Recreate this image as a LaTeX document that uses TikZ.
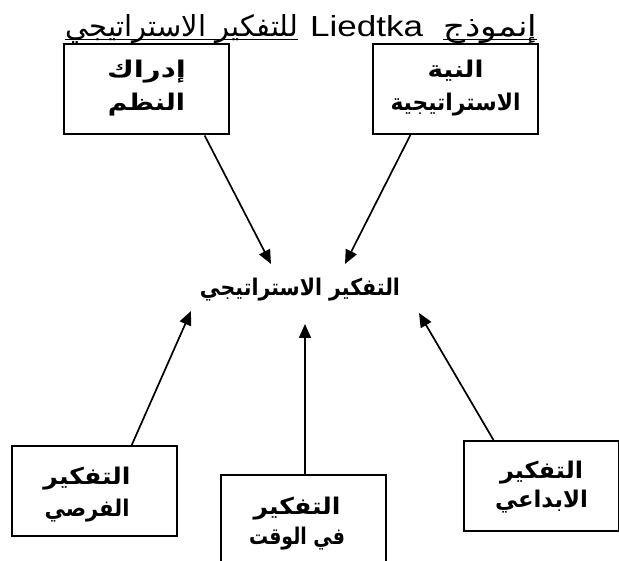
\documentclass[tikz,border=0pt]{standalone}
\usepackage{fontspec}
\usepackage{graphicx}
\usetikzlibrary{arrows.meta,calc}
\TeXXeTstate=1
\setmainfont{Liberation Sans}
\newfontfamily\arabicfont[Script=Arabic]{DejaVu Sans}
% line stretched horizontally to a set width
\newcommand{\fitw}[2]{\resizebox{#1pt}{\height}{#2}}
\begin{document}
\begin{tikzpicture}[x=1pt,y=-1pt,
  box/.style={draw, line width=2pt, minimum width=165pt, minimum height=90pt, inner sep=0pt},
  lbl/.style={align=center, inner sep=0pt, font=\arabicfont\bfseries\fontsize{23}{33}\selectfont},
  link/.style={line width=1.7pt, -{Triangle[length=14pt,width=12pt]}},
  uline/.style={line width=1.4pt}]
\useasboundingbox (0,0) rectangle (619,561);

% title
\node[anchor=base west, inner sep=0pt] (tA) at (65,37)
  {\fitw{233}{\arabicfont\fontsize{29}{34}\selectfont\beginR للتفكير الاستراتيجي\endR}};
\node[anchor=base west, inner sep=0pt] (tB) at (310,37)
  {\fitw{113}{\fontsize{29}{34}\selectfont Liedtka}};
\node[anchor=base west, inner sep=0pt] (tC) at (443,37)
  {\fitw{94}{\arabicfont\fontsize{29}{34}\selectfont\beginR إنموذج\endR}};
\draw[uline] (tA.base west) ++(0,2.5) coordinate (uA1) -- (uA1 -| tA.east);
\draw[uline] (tC.base west) ++(0,2.5) coordinate (uC1) -- (uC1 -| tC.east);

% boxes
\node[box] (perc) at (146.5,89.5) {};
\node[box] (intent) at (455.5,89) {};
\node[box] (opp) at (94,491) {};
\node[box] (time) at (303,520) {};
\node[box, minimum width=155pt] (creat) at (541.5,486) {};

% labels
\node[lbl] (percT) at ([yshift=1pt]perc.center)
  {\fitw{79}{\beginR إدراك\endR}\\\fitw{77}{\beginR النظم\endR}};
\node[lbl] (intentT) at ([yshift=1pt]intent.center)
  {\fitw{56}{\beginR النية\endR}\\\fitw{130}{\beginR الاستراتيجية\endR}};
\node[lbl, font=\arabicfont\bfseries\fontsize{23}{32}\selectfont] (oppT) at ([shift={(-7,4)}]opp.center)
  {\fitw{87}{\beginR التفكير\endR}\\\fitw{85}{\beginR الفرصي\endR}};
\node[lbl, font=\arabicfont\bfseries\fontsize{23}{30}\selectfont] (timeT) at ([shift={(-6,4)}]time.center)
  {\fitw{87}{\beginR التفكير\endR}\\\fitw{96}{\beginR في الوقت\endR}};
\node[lbl, font=\arabicfont\bfseries\fontsize{23}{29}\selectfont] (creatT) at ([yshift=-1pt]creat.center)
  {\fitw{83}{\beginR التفكير\endR}\\\fitw{93}{\beginR الابداعي\endR}};

% centre concept
\node[lbl] (goal) at (300,290)
  {\fitw{200}{\beginR التفكير الاستراتيجي\endR}};

% connectors
\draw[link] ($(perc.south west)!0.848!(perc.south east)$) -- ([shift={(-29,-26)}]goal.center);
\draw[link] ($(intent.south west)!0.23!(intent.south east)$) -- ([shift={(45,-26)}]goal.center);
\draw[link] ($(opp.north west)!0.726!(opp.north east)$) -- ([shift={(-109,21)}]goal.center);
\draw[link] ($(time.north west)!0.512!(time.north east)$) -- ([shift={(5,34)}]goal.center);
\draw[link] ($(creat.north west)!0.194!(creat.north east)$) -- ([shift={(119,23)}]goal.center);
\end{tikzpicture}
\end{document}
